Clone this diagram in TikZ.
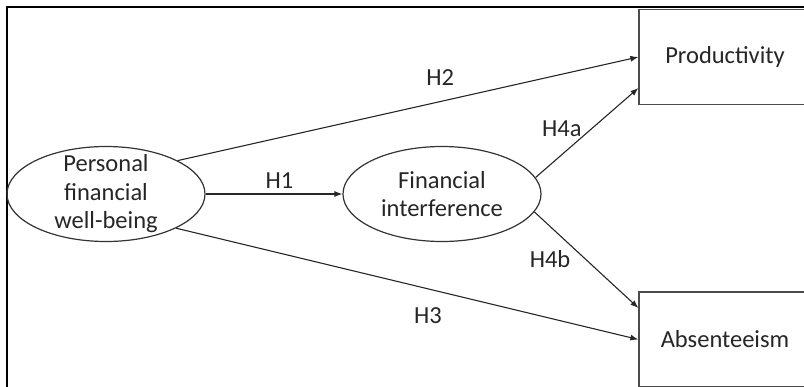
\documentclass[tikz,border=0pt]{standalone}
\usepackage{fontspec}
\setmainfont{Carlito}
\usetikzlibrary{arrows.meta,positioning,shapes.geometric}

\begin{document}
\begin{tikzpicture}[x=1pt,y=-1pt,
    font=\fontsize{24.5}{28.5}\selectfont,
    construct/.style={ellipse,draw=black!80,line width=1.2pt,minimum width=198pt,minimum height=95pt,inner sep=-12pt,align=center,text=black!85},
    outcome/.style={rectangle,draw=black!70,line width=1.2pt,minimum width=172pt,minimum height=95pt,text=black!85},
    hyp/.style={-{Latex[length=8pt,width=6pt]},line width=1.1pt,draw=black!85},
    lab/.style={text=black!85,inner sep=2pt}]
    \useasboundingbox (0,0) rectangle (804,386);
    \clip (0,0) rectangle (804,386);
    % frame
    \draw[line width=2.4pt] (7,400) -- (7,7) -- (820,7);

    \node[construct] (pfwb) at (106,194) {Personal\\financial\\well-being};
    \node[construct] (finint) at (442,194) {Financial\\interference};
    \node[outcome] (prod) at (725,57) {Productivity};
    \node[outcome] (absent) at (725,339.5) {Absenteeism};

    \draw[hyp] (pfwb.east) -- node[lab,above=3pt,pos=.54] (h1) {H1} (finint.west);
    \draw[hyp] (pfwb.25) -- node[lab,above=13pt,pos=.57] (h2) {H2} (prod.west);
    \draw[hyp] (pfwb.-26) -- node[lab,below=16pt,pos=.545] (h3) {H3} (absent.west);
    \draw[hyp] (finint.10) -- node[lab,left=8pt,pos=.55] (h4a) {H4a} ([yshift=-31pt]prod.west);
    \draw[hyp] (finint.-11) -- node[lab,left=13pt,pos=.495] (h4b) {H4b} ([yshift=31.5pt]absent.west);
\end{tikzpicture}
\end{document}
